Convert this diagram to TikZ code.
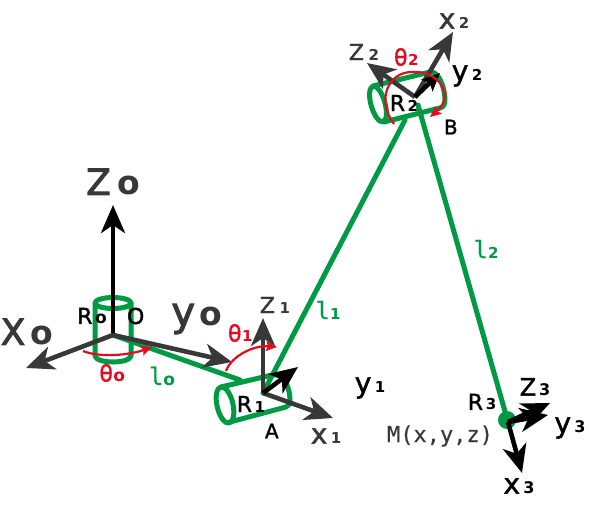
\documentclass[tikz,border=0pt]{standalone}
\usepackage{fontspec}
\setmainfont{DejaVu Sans}
\newfontfamily\monof{DejaVu Sans Mono}
\newfontfamily\heavyf[FakeBold=1.5]{DejaVu Sans}
\newfontfamily\heavyb[FakeBold=2.5]{DejaVu Sans}
\newfontfamily\heavym[FakeBold=0.4]{DejaVu Sans Mono}
\usetikzlibrary{arrows.meta}
\definecolor{lgreen}{HTML}{009A44}
\definecolor{axisgray}{HTML}{383838}
\definecolor{thetared}{HTML}{E30B20}
\newcommand{\lbl}[4]{{\heavyf\fontsize{#2}{#2}\selectfont #1\kern 0.12em\normalfont\fontsize{#4}{#4}\selectfont\bfseries #3}}
\newcommand{\biglbl}[4]{{\heavyb\fontsize{#2}{#2}\selectfont #1\kern 0.12em\normalfont\fontsize{#4}{#4}\selectfont\bfseries #3}}
\newcommand{\mlbl}[4]{{\heavym\fontsize{#2}{#2}\selectfont #1\normalfont\fontsize{#4}{#4}\selectfont\bfseries #3}}
\tikzset{
 link/.style={draw=lgreen,line width=5pt,line cap=round,line join=round},
 axisline/.style={draw=axisgray,line width=4.6pt,-{Stealth[length=28pt,width=24pt,inset=8pt]}},
 blackaxis/.style={axisline,draw=black},
 smallhead/.style={-{Stealth[length=18pt,width=16pt,inset=4pt]}},
 anglearc/.style={draw=thetared,line width=2.2pt,-{Stealth[length=11pt,width=10pt,inset=2pt]}},
 txt/.style={inner sep=0pt,text=#1},
 txt/.default=axisgray
}
\begin{document}
\begin{tikzpicture}[x=1pt,y=-1pt]
\useasboundingbox (0,0) rectangle (589,504);
\coordinate (O) at (113,335);
\coordinate (A) at (263,393);
\coordinate (B) at (415,97);
\coordinate (M) at (508,422);
\coordinate (zo) at (113,205);
\coordinate (xo) at (26,368);
\coordinate (yo) at (232,362);
\coordinate (z1) at (263,318);
\coordinate (x1) at (333,418);
\coordinate (y1) at (298,367);
\coordinate (z2) at (367,63);
\coordinate (x2) at (453,32);
\coordinate (y2) at (440,73);
\coordinate (z3) at (550,403);
\coordinate (y3) at (548,415);
\coordinate (x3) at (522,473);
% cylinder R0
\draw[link] (95,303) -- (95,356) .. controls (97,364) and (129,364) .. (131,356) -- (131,303);
\draw[link] (113,303) ellipse [x radius=18,y radius=5.5];
% links
\draw[link] (O) -- (240,380);
\draw[link] (A) -- (405,120);
\draw[link] (418,105) -- (M);
% cylinder R1
\draw[link,rotate around={13:(225,405)}] (225,405) ellipse [x radius=8,y radius=18.5];
\draw[link] (221,387) -- (272,375) .. controls (283,373) and (289,385) .. (290,398) .. controls (290,404) and (289,406) .. (286,407) -- (230,422);
% cylinder R2
\draw[link,rotate around={16:(378,104)}] (378,104) ellipse [x radius=7,y radius=18.5];
\draw[link] (373,86) -- (430,72) .. controls (438,71) and (444,85) .. (445,98) .. controls (445,104) and (444,107) .. (440,108) -- (384,122);
% end effector
\fill[lgreen] (507,420) circle (9);
% axes
\draw[blackaxis] (O) -- (zo);
\draw[axisline] (O) -- (xo);
\draw[axisline] (O) -- (yo);
\draw[axisline] (A) -- (z1);
\draw[axisline] (A) -- (x1);
\draw[blackaxis] (A) -- (y1);
\draw[axisline] (B) -- (z2);
\draw[axisline] (B) -- (x2);
\draw[blackaxis,smallhead] (B) -- (y2);
\draw[blackaxis] (M) -- (z3);
\draw[blackaxis] (M) -- (y3);
\draw[blackaxis] (M) -- (x3);
% angle arcs
\draw[anglearc] (83,351) .. controls (100,358) and (130,355) .. (152,347);
\draw[anglearc] (226,371) .. controls (232,355) and (255,345) .. (277,347);
\draw[anglearc] (394,124) .. controls (376,100) and (388,72) .. (412,72) .. controls (438,70) and (456,95) .. (430,117);
% labels
\node[txt] (tzo) at (113,182) {\biglbl{Z}{36}{\kern 2pt o}{33}};
\node[txt] (txo) at (27,332) {\biglbl{X}{36}{\kern 1pt o}{33}};
\node[txt] (tyo) at (197,319) {\biglbl{y}{40}{o}{33}};
\node[txt=black] (tro) at (92,316) {\lbl{R}{22}{o}{17}};
\node[txt=black] (tO) at (137,316) {\lbl{O}{22}{}{10}};
\node[txt=thetared] (tho) at (112,373) {\mlbl{θ}{24}{o}{17}};
\node[txt=lgreen] (tlo) at (162,376) {\mlbl{l}{24}{o}{17}};
\node[txt=thetared] (th1) at (240,333) {\mlbl{θ}{24}{1}{15}};
\node[txt=lgreen] (tl1) at (328,310) {\mlbl{l}{24}{1}{15}};
\node[txt] (tz1) at (275,305) {\lbl{Z}{22}{\kern 2pt 1}{15}};
\node[txt=black] (ty1) at (370,388) {\lbl{y}{28}{1}{15}};
\node[txt=black] (tr1) at (251,404) {\lbl{R}{22}{1}{15}};
\node[txt=black] (tA) at (273,431) {\lbl{A}{20}{}{10}};
\node[txt] (tx1) at (326,436) {\lbl{x}{28}{1}{15}};
\node[txt=thetared] (th2) at (406,57) {\mlbl{θ}{24}{2}{15}};
\node[txt] (tz2) at (364,52) {\lbl{Z}{22}{\kern 2pt 2}{15}};
\node[txt] (tx2) at (454,21) {\lbl{x}{28}{2}{15}};
\node[txt=black] (ty2) at (467,76) {\lbl{y}{28}{2}{15}};
\node[txt=black] (tr2) at (404,103) {\lbl{R}{22}{2}{15}};
\node[txt=black] (tB) at (452,127) {\lbl{B}{20}{}{10}};
\node[txt=lgreen] (tl2) at (486,249) {\mlbl{l}{24}{2}{15}};
\node[txt=black] (tr3) at (482,402) {\lbl{R}{22}{3}{15}};
\node[txt=black] (tz3) at (535,387) {\lbl{Z}{24}{3}{16}};
\node[txt=black] (ty3) at (570,428) {\lbl{y}{28}{3}{16}};
\node[txt=black] (tx3) at (519,486) {\lbl{x}{28}{3}{16}};
\node[txt=axisgray] (tM) at (440,436) {\mlbl{M(x,y,z)}{22}{}{10}};
\end{tikzpicture}
\end{document}
